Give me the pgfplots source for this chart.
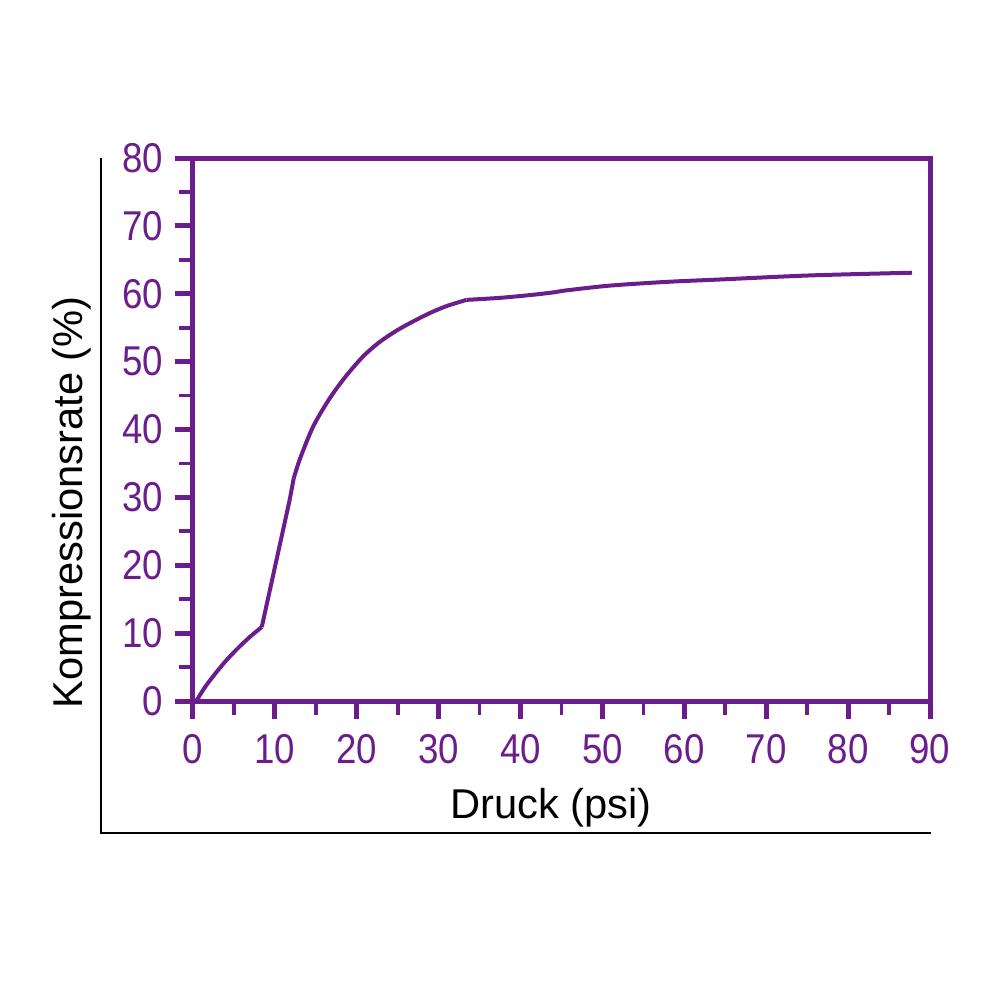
\documentclass[border=0pt]{standalone}
\usepackage{fontspec}
\setmainfont{Liberation Sans}
\newfontfamily\tickfont[FakeStretch=0.88]{Liberation Sans}
\usepackage{pgfplots}
\pgfplotsset{compat=1.18}
\definecolor{lila}{HTML}{6C1D8C}

\begin{document}
\begin{tikzpicture}
  \path[use as bounding box] (0,0) rectangle (300pt,300pt);
  % black L frame
  \draw[black, line width=0.7pt] (30.3pt,252.6pt) -- (30.3pt,50.1pt) -- (279.3pt,50.1pt);
  \begin{axis}[
      at={(57.9pt,89.7pt)}, anchor=south west,
      scale only axis,
      width=221.1pt, height=162.9pt,
      xmin=0, xmax=90, ymin=0, ymax=80,
      xtick={0,10,...,90}, ytick={0,10,...,80},
      minor x tick num=1, minor y tick num=1,
      xtick pos=bottom, ytick pos=left,
      tick align=outside,
      major tick length=5.4pt, minor tick length=4.2pt,
      axis line style={lila, line width=1.5pt},
      major tick style={lila, line width=1.5pt},
      minor tick style={lila, line width=1.1pt},
      /pgf/number format/assume math mode=true,
      tick label style={font=\tickfont\fontsize{12.5}{14}\selectfont, text=lila},
      xticklabel style={yshift=-1.2pt},
      label style={font=\fontsize{12.5}{14}\selectfont, text=black},
      xlabel={Druck (psi)},
      ylabel={Kompressionsrate (\%)},
      xlabel style={at={(rel axis cs:0.486,-0.2155)}, anchor=base},
      ylabel style={at={(rel axis cs:-0.1506,0.366)}, anchor=base, rotate=0},
      clip=false,
    ]
    % low part (curved)
    \addplot[lila, line width=1.2pt, smooth, tension=0.5] coordinates {
      (0.45,0.1) (1.5,2.1) (2.7,4.0) (4,5.9) (5.5,7.8) (7,9.5) (8.4,10.9)
    };
    % steep straight part
    \addplot[lila, line width=1.2pt, line join=round] coordinates {
      (8.4,10.9) (11.8,29.6) (12.3,32.8)
    };
    % upper part (curved)
    \addplot[lila, line width=1.2pt, smooth, tension=0.5] coordinates {
      (12.3,32.8) (13.1,35.8) (14.7,40.5) (16.7,44.6) (18.7,47.9)
      (20.8,50.8) (22.8,52.9) (24.9,54.6) (27,56.0) (29,57.2)
      (31,58.2) (33.4,59.1)
    };
    \addplot[lila, line width=1.2pt, smooth, tension=0.5] coordinates {
      (33.4,59.1) (37.5,59.4) (41.1,59.8)
      (44,60.2) (45.6,60.5) (50.9,61.2) (57.8,61.75) (64.3,62.1)
      (75.3,62.7) (87.8,63.1)
    };
  \end{axis}
\end{tikzpicture}
\end{document}
